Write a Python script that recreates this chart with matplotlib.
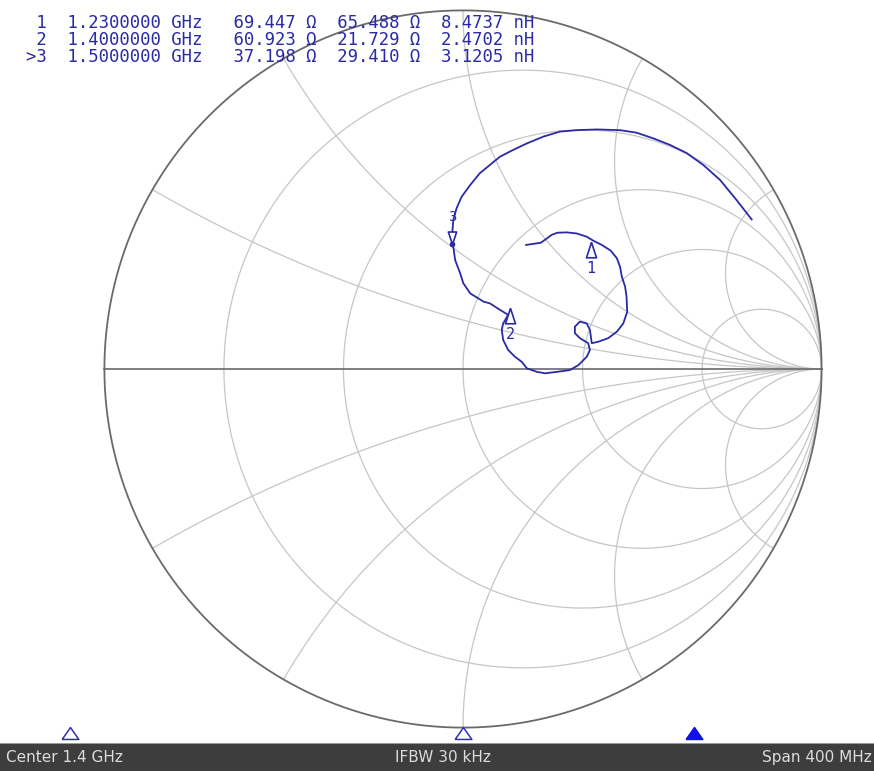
import numpy as np
import matplotlib.pyplot as plt
from matplotlib.patches import Rectangle

W, H = 874, 771

#* marker table
mk_label = [' 1', ' 2', '>3']
mk_freq = [1.23, 1.40, 1.50]        # GHz
mk_r = [69.447, 60.923, 37.198]     # ohm
mk_x = [65.488, 21.729, 29.410]     # ohm
mk_l = [8.4737, 2.4702, 3.1205]     # nH
z0 = 50.0

#* sweep
start_ghz, stop_ghz = 1.2, 1.6
bar_texts = ['Center 1.4 GHz', 'IFBW 30 kHz', 'Span 400 MHz']

#* smith grid values
grid_r = [0.2, 0.5, 1.0, 2.0, 5.0]
grid_x = [0.268, 0.577, 1.0, 1.732, 3.732]

#* trace (reflection coefficient)
trace_re = [0.176, 0.196, 0.217, 0.231, 0.247, 0.263, 0.289, 0.317, 0.345, 0.363,
            0.387, 0.412, 0.429, 0.438, 0.443, 0.452, 0.456, 0.458, 0.447, 0.429,
            0.405, 0.377, 0.359, 0.354, 0.345, 0.326, 0.312, 0.312, 0.326, 0.349,
            0.354, 0.345, 0.322, 0.298, 0.261, 0.229, 0.206, 0.178, 0.164, 0.145,
            0.126, 0.112, 0.108, 0.112, 0.126, 0.103, 0.075, 0.057, 0.020, 0.001,
            -0.008, -0.022, -0.027, -0.030, -0.027, -0.018, -0.004, 0.020, 0.047, 0.075,
            0.103, 0.140, 0.178, 0.224, 0.270, 0.317, 0.373, 0.438, 0.484, 0.531,
            0.577, 0.624, 0.670, 0.717, 0.763, 0.805]
trace_im = [0.346, 0.349, 0.352, 0.362, 0.374, 0.380, 0.381, 0.378, 0.369, 0.358,
            0.346, 0.330, 0.309, 0.285, 0.257, 0.230, 0.202, 0.160, 0.127, 0.104,
            0.086, 0.076, 0.072, 0.109, 0.127, 0.132, 0.118, 0.100, 0.086, 0.072,
            0.053, 0.034, 0.011, -0.003, -0.008, -0.012, -0.008, 0.002, 0.020, 0.034,
            0.053, 0.081, 0.109, 0.127, 0.151, 0.165, 0.183, 0.188, 0.211, 0.239,
            0.267, 0.304, 0.341, 0.378, 0.416, 0.448, 0.480, 0.513, 0.546, 0.569,
            0.592, 0.611, 0.629, 0.648, 0.662, 0.666, 0.668, 0.666, 0.659, 0.643,
            0.625, 0.602, 0.569, 0.527, 0.471, 0.417]

blue = '#2a2aa6'
grid_col = '#c6c6c6'
edge_col = '#6a6a6a'

fig = plt.figure(figsize=(W / 100, H / 100), dpi=100)
fig.patch.set_facecolor('white')

#* chart axes, unit circle -> pixel box
cx, cy, rad = 463.0, 369.0, 358.6
ax = fig.add_axes([(cx - rad) / W, (H - cy - rad) / H, 2 * rad / W, 2 * rad / H])
ax.set_xlim(-1, 1)
ax.set_ylim(-1, 1)
ax.axis('off')

t = np.linspace(0, 2 * np.pi, 721)
for r in grid_r:
    c = r / (1 + r)
    rr = 1 / (1 + r)
    ax.plot(c + rr * np.cos(t), rr * np.sin(t), color=grid_col, lw=0.9)

rs = np.concatenate([[0], np.geomspace(1e-3, 1e4, 800)])
for xv in grid_x:
    for s in (1, -1):
        z = rs + 1j * s * xv
        g = (z - 1) / (z + 1)
        ax.plot(g.real, g.imag, color=grid_col, lw=0.9)

ax.plot(np.cos(t), np.sin(t), color=edge_col, lw=1.3, clip_on=False)
ax.plot([-1, 1], [0, 0], color=edge_col, lw=1.2, clip_on=False)

#* trace
ax.plot(trace_re, trace_im, color=blue, lw=1.3)

#* markers on the trace, from the readout impedances
zm = (np.array(mk_r) + 1j * np.array(mk_x)) / z0
gm = (zm - 1) / (zm + 1)
up_tri = [(0, 0), (-0.33, -1), (0.33, -1), (0, 0)]
dn_tri = [(0, 0), (-0.33, 1), (0.33, 1), (0, 0)]
for i in range(len(gm)):
    num = mk_label[i].strip().lstrip('>')
    if mk_label[i].startswith('>'):
        ax.plot(gm[i].real, gm[i].imag, marker=dn_tri, ms=18, mfc='white',
                mec=blue, mew=1.2, ls='none')
        ax.plot(gm[i].real, gm[i].imag, 'o', ms=3, color=blue)
        ax.annotate(num, (gm[i].real, gm[i].imag), xytext=(0, 20),
                    textcoords='offset points', ha='center', va='center',
                    color=blue, fontsize=10, family='DejaVu Sans Mono')
    else:
        ax.plot(gm[i].real, gm[i].imag, marker=up_tri, ms=22, mfc='white',
                mec=blue, mew=1.2, ls='none')
        ax.annotate(num, (gm[i].real, gm[i].imag), xytext=(0, -19),
                    textcoords='offset points', ha='center', va='center',
                    color=blue, fontsize=11, family='DejaVu Sans Mono')

#* marker readout table
row_y = [23, 40, 57]
for i in range(len(mk_label)):
    line = '%s  %.7f GHz   %.3f Ω  %.3f Ω  %.4f nH' % (
        mk_label[i], mk_freq[i], mk_r[i], mk_x[i], mk_l[i])
    fig.text(26 / W, 1 - row_y[i] / H, line, ha='left', va='center',
             color=blue, fontsize=12.45, family='DejaVu Sans Mono')

#* status bar
bar_h = 27
fig.patches.append(Rectangle((0, 0), 1, bar_h / H, transform=fig.transFigure,
                             facecolor='#3d3d3d', edgecolor='none'))
fig.patches.append(Rectangle((0, bar_h / H), 1, 1.5 / H, transform=fig.transFigure,
                             facecolor='#9a9a9a', edgecolor='none'))
fig.text(6 / W, (bar_h / 2) / H, bar_texts[0], ha='left', va='center',
         color='#dcdcdc', fontsize=11)
fig.text(395 / W, (bar_h / 2) / H, bar_texts[1], ha='left', va='center',
         color='#dcdcdc', fontsize=11)
fig.text(872 / W, (bar_h / 2) / H, bar_texts[2], ha='right', va='center',
         color='#dcdcdc', fontsize=11)

#* stimulus marker triangles above the bar
fax = fig.add_axes([1 / W, 33 / H, 924 / W, 10 / H])
fax.set_xlim(start_ghz, stop_ghz)
fax.set_ylim(0, 1)
fax.axis('off')
bot_tri = [(-0.7, -0.5), (0.7, -0.5), (0, 0.5), (-0.7, -0.5)]
for i in range(len(mk_freq)):
    active = mk_label[i].startswith('>')
    fax.plot(mk_freq[i], 0.5, marker=bot_tri, ms=12, ls='none',
             mfc=('#1010ee' if active else 'white'),
             mec=('#1010ee' if active else '#3030b0'), mew=1.1, clip_on=False)

fig.savefig('out.png', dpi=100)
